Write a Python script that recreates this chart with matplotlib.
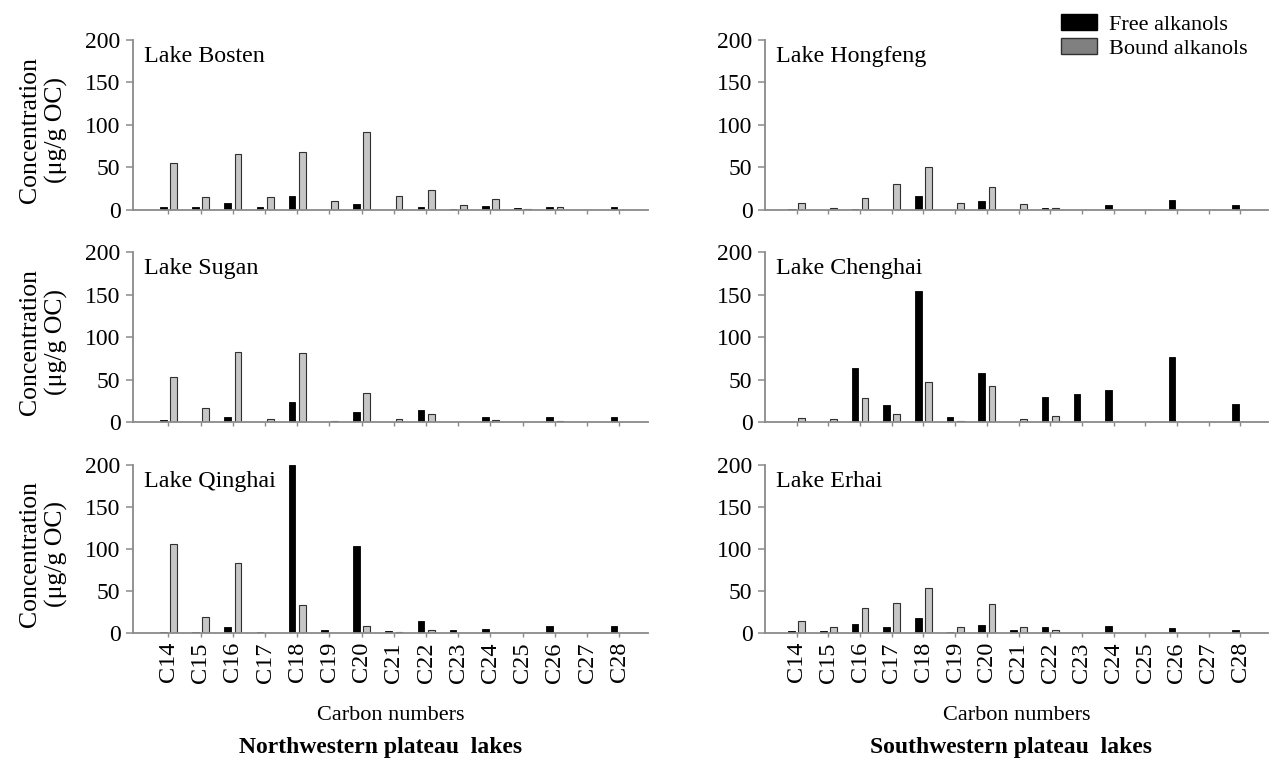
import numpy as np
import matplotlib.pyplot as plt
from matplotlib.patches import Patch

plt.rcParams['font.family'] = ['Liberation Serif', 'DejaVu Serif']

carbons = ['C14', 'C15', 'C16', 'C17', 'C18', 'C19', 'C20', 'C21',
           'C22', 'C23', 'C24', 'C25', 'C26', 'C27', 'C28']

# northwestern lakes
bosten_free = [3.5, 3.5, 8, 3.5, 17, 0, 6.5, 0, 3, 1, 5, 2, 4, 0, 3]
bosten_bound = [55.5, 15.5, 65.5, 15, 68, 10, 92, 17, 24, 6, 12.5, 1.5, 3, 0, 0]
sugan_free = [2.7, 0, 6, 0, 23, 0, 11.5, 0, 14.5, 0.5, 6, 0, 6, 0, 6]
sugan_bound = [53, 17, 82, 3, 81, 1.5, 34.5, 3, 10, 0, 2.7, 0, 1, 0, 0]
qinghai_free = [1, 1, 7.5, 1.5, 200, 3, 104, 2, 13.7, 3.5, 4.3, 0, 7.8, 0, 8.6]
qinghai_bound = [106.5, 19, 83, 0, 33, 0, 8, 1, 3.5, 0, 0, 0, 0, 0, 0]

# southwestern lakes
hongfeng_free = [1, 0, 1.2, 0, 16, 0, 10, 0, 2.7, 0, 6.3, 0, 11.4, 0, 5.5]
hongfeng_bound = [8.6, 2.7, 14, 30, 50, 7.8, 27.5, 7.5, 2.7, 0, 0, 0, 0, 0, 0]
chenghai_free = [0, 0, 64, 20, 154, 5.5, 58, 0, 29, 33, 38, 0, 77, 0, 21]
chenghai_bound = [4.3, 3, 28, 10, 47.5, 1.5, 42.5, 3, 6.7, 0, 0, 0, 0, 0, 0]
erhai_free = [2.7, 2.7, 11, 7.5, 18, 0.8, 10, 3, 6.7, 0, 8, 0, 5.5, 0, 3]
erhai_bound = [13.7, 6.7, 30, 36, 53.7, 7.5, 34.5, 6.7, 4, 0, 0, 0, 0, 0, 0]

lakes_left = [('Lake Bosten', bosten_free, bosten_bound),
              ('Lake Sugan', sugan_free, sugan_bound),
              ('Lake Qinghai', qinghai_free, qinghai_bound)]
lakes_right = [('Lake Hongfeng', hongfeng_free, hongfeng_bound),
               ('Lake Chenghai', chenghai_free, chenghai_bound),
               ('Lake Erhai', erhai_free, erhai_bound)]

fig = plt.figure(figsize=(12.72, 7.63), dpi=100)

rows = [(0.7248, 0.2228), (0.4469, 0.2228), (0.1704, 0.2202)]
cols = [(0.1046, 0.405, (-1.1, 14.9)), (0.6014, 0.3954, (-1.0, 14.87))]
axcol = '#8a8a8a'
x = np.arange(len(carbons))
w = 0.21

for ci, lakes in enumerate([lakes_left, lakes_right]):
    left, width, xl = cols[ci]
    for ri, (name, free, bound) in enumerate(lakes):
        bottom, height = rows[ri]
        ax = fig.add_axes([left, bottom, width, height])
        ax.bar(x - 0.16, free, w, color='black', edgecolor='black', linewidth=0.6)
        ax.bar(x + 0.16, bound, w, color='#c6c6c6', edgecolor='#303030', linewidth=0.8)
        ax.set_ylim(0, 200)
        ax.set_xlim(*xl)
        ax.set_yticks([0, 50, 100, 150, 200])
        ax.set_xticks(x)
        for s in ['top', 'right']:
            ax.spines[s].set_visible(False)
        for s in ['left', 'bottom']:
            ax.spines[s].set_color(axcol)
            ax.spines[s].set_linewidth(1.3)
        ax.tick_params(axis='y', colors=axcol, labelcolor='black', labelsize=17,
                       length=5, width=1.1, direction='out', pad=4)
        ax.tick_params(axis='x', colors=axcol, labelcolor='black', labelsize=17.5,
                       length=3, width=1.0, direction='out')
        ax.text(0.022, 0.965, name, transform=ax.transAxes, ha='left', va='top',
                fontsize=17.3)
        if ri == 2:
            ax.set_xticklabels(carbons, rotation=90)
            ax.set_xlabel('Carbon numbers', fontsize=16, labelpad=17)
        else:
            ax.set_xticklabels([])
        if ci == 0:
            fig.text(0.0342, bottom + height / 2 - 0.006,
                     'Concentration\n(\u03bcg/g OC)', rotation=90,
                     ha='center', va='center', fontsize=18.5, linespacing=1.25)

fig.text(0.299, 0.02, 'Northwestern plateau  lakes', ha='center', va='center',
         fontsize=17, fontweight='bold')
fig.text(0.795, 0.02, 'Southwestern plateau  lakes', ha='center', va='center',
         fontsize=17, fontweight='bold')

handles = [Patch(facecolor='black', edgecolor='black', label='Free alkanols'),
           Patch(facecolor='#808080', edgecolor='#303030', label='Bound alkanols')]
fig.legend(handles=handles, loc='upper right', bbox_to_anchor=(0.995, 1.005),
           frameon=False, fontsize=16, handlelength=1.6, handleheight=0.75,
           labelspacing=0.15, handletextpad=0.55, borderpad=0.3)

fig.savefig('out.png', dpi=100)
